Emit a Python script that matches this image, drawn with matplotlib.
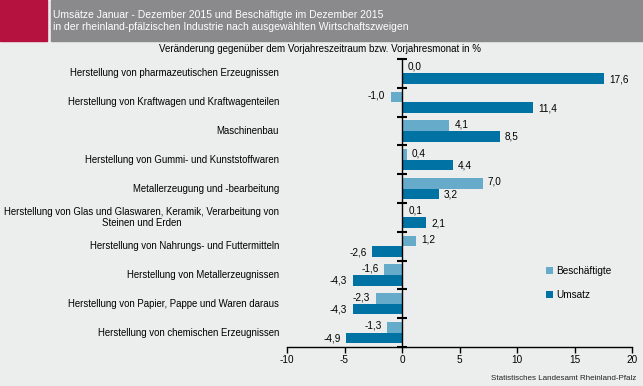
import matplotlib
matplotlib.use("Agg")
import matplotlib.pyplot as plt
from matplotlib.patches import Rectangle
import matplotlib.transforms as mtransforms
import numpy as np

plt.rcParams['font.family'] = ['Liberation Sans', 'DejaVu Sans']

categories = [
    "Herstellung von pharmazeutischen Erzeugnissen",
    "Herstellung von Kraftwagen und Kraftwagenteilen",
    "Maschinenbau",
    "Herstellung von Gummi- und Kunststoffwaren",
    "Metallerzeugung und -bearbeitung",
    "Herstellung von Glas und Glaswaren, Keramik, Verarbeitung von\nSteinen und Erden",
    "Herstellung von Nahrungs- und Futtermitteln",
    "Herstellung von Metallerzeugnissen",
    "Herstellung von Papier, Pappe und Waren daraus",
    "Herstellung von chemischen Erzeugnissen",
]
beschaeftigte = [0.0, -1.0, 4.1, 0.4, 7.0, 0.1, 1.2, -1.6, -2.3, -1.3]
umsatz = [17.6, 11.4, 8.5, 4.4, 3.2, 2.1, -2.6, -4.3, -4.3, -4.9]
xticks = [-10, -5, 0, 5, 10, 15, 20]

title_lines = ["Umsätze Januar - Dezember 2015 und Beschäftigte im Dezember 2015",
               "in der rheinland-pfälzischen Industrie nach ausgewählten Wirtschaftszweigen"]
subtitle = "Veränderung gegenüber dem Vorjahreszeitraum bzw. Vorjahresmonat in %"
source = "Statistisches Landesamt Rheinland-Pfalz"

c_light = "#66abca"
c_dark = "#0072a4"
bg = "#eceeee"

W, H = 643, 386
fig = plt.figure(figsize=(W/100, H/100), dpi=100, facecolor=bg)

# header
fig.patches.append(Rectangle((0, 1-41/H), 47/W, 41/H, transform=fig.transFigure, color="#b5123f", zorder=0))
fig.patches.append(Rectangle((51/W, 1-41/H), 1-51/W, 41/H, transform=fig.transFigure, color="#8a8a8c", zorder=0))
fig.text(53/W, 1-15/H, title_lines[0], color="white", fontsize=7.5, va="center", ha="left")
fig.text(53/W, 1-27/H, title_lines[1], color="white", fontsize=7.5, va="center", ha="left")
fig.text(320/W, 1-49/H, subtitle, color="black", fontsize=7.0, va="center", ha="center")
fig.text(636/W, 1-378/H, source, color="#222222", fontsize=5.8, va="center", ha="right")

ax = fig.add_axes([287/W, 1-347/H, 345/W, 288/H])
ax.set_facecolor(bg)

y = np.arange(len(categories))
h = 0.37
ax.barh(y - h/2, beschaeftigte, height=h, color=c_light, label="Beschäftigte")
ax.barh(y + h/2, umsatz, height=h, color=c_dark, label="Umsatz")

def fmt(v):
    return f"{v:.1f}".replace(".", ",")

for yi, v in zip(y - h/2, beschaeftigte):
    off = 0.45 if v >= 0 else -0.45
    ax.text(v + off, yi - 0.05, fmt(v), ha="left" if v >= 0 else "right", va="center", fontsize=7.2)
for yi, v in zip(y + h/2, umsatz):
    off = 0.45 if v >= 0 else -0.45
    ax.text(v + off, yi + 0.02, fmt(v), ha="left" if v >= 0 else "right", va="center", fontsize=7.2)

trans = mtransforms.blended_transform_factory(ax.transAxes, ax.transData)
for yi, lab in zip(y, categories):
    ax.text(-0.023, yi, lab, transform=trans, ha="right", va="center",
            multialignment="center", fontsize=6.95)

ax.set_xlim(-10, 20)
ax.set_ylim(len(categories) - 0.5, -0.5)
ax.set_xticks(xticks)
ax.set_xticklabels([str(t) for t in xticks], fontsize=7.2)
ax.tick_params(axis="x", direction="out", length=4, width=1, pad=2)

ax.spines["left"].set_position(("data", 0))
ax.spines["right"].set_visible(False)
ax.spines["top"].set_visible(False)
ax.spines["left"].set_linewidth(1)
ax.spines["bottom"].set_linewidth(1)
ax.set_yticks(np.arange(-0.5, len(categories), 1.0))
ax.set_yticklabels([])
ax.tick_params(axis="y", direction="inout", length=7, width=1.5)

leg = ax.legend(loc="upper left", bbox_to_anchor=((542-287)/345, (347-262)/288),
                frameon=False, fontsize=7.2, handlelength=0.7, handleheight=0.7,
                handletextpad=0.3, labelspacing=1.4, borderaxespad=0)

fig.savefig("out.png", dpi=100, facecolor=bg)
